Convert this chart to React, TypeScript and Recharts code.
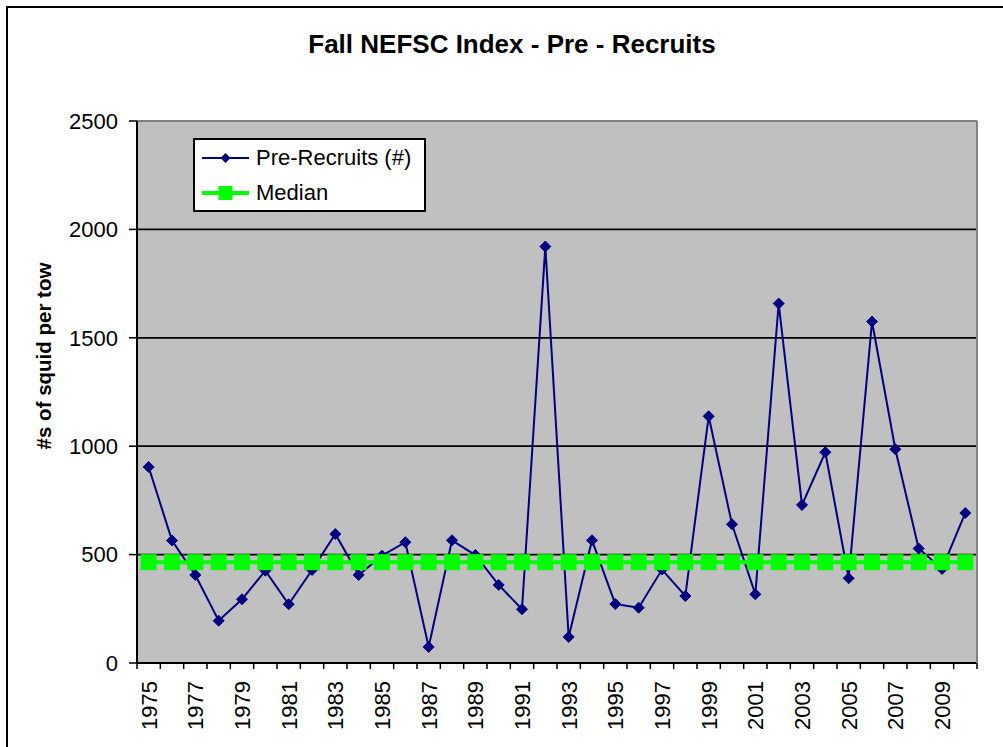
import React from 'react';
import {
  LineChart, Line, XAxis, YAxis, CartesianGrid, Legend, ReferenceLine,
} from 'recharts';

// values
const years = [
  '1975', '1976', '1977', '1978', '1979', '1980', '1981', '1982', '1983', '1984',
  '1985', '1986', '1987', '1988', '1989', '1990', '1991', '1992', '1993', '1994',
  '1995', '1996', '1997', '1998', '1999', '2000', '2001', '2002', '2003', '2004',
  '2005', '2006', '2007', '2008', '2009', '2010',
];
const preRecruits = [
  904, 565, 406, 195, 294, 426, 271, 429, 595, 406,
  495, 557, 74, 566, 498, 360, 248, 1921, 120, 566,
  272, 255, 431, 309, 1138, 640, 317, 1658, 729, 972,
  391, 1575, 986, 528, 434, 692,
];
const medianValue = 465;
const yTicks = [0, 500, 1000, 1500, 2000, 2500];

const data = years.map((year, i) => ({
  year,
  pre: preRecruits[i],
  median: medianValue,
}));

const FONT = '"Liberation Sans", Arial, sans-serif';
const CHART_W = 1003;
const CHART_H = 747;
const PLOT_LEFT = 137;
const PLOT_RIGHT_GAP = 26;
const PLOT_W = CHART_W - PLOT_LEFT - PLOT_RIGHT_GAP;
const HALF_BAND = PLOT_W / years.length / 2;

const Diamond = (props: any) => {
  const { cx, cy } = props;
  if (cx == null || cy == null) return null;
  const r = 5.5;
  return (
    <polygon
      points={`${cx},${cy - r} ${cx + r},${cy} ${cx},${cy + r} ${cx - r},${cy}`}
      fill="#000080"
      stroke="#000080"
    />
  );
};

const Square = (props: any) => {
  const { cx, cy } = props;
  if (cx == null || cy == null) return null;
  return <rect x={cx - 8} y={cy - 8} width={16} height={16} fill="#00FF00" />;
};

// Excel style: tick marks between categories, labels on every other year
const YearTick = (props: any) => {
  const { x, y, payload, index } = props;
  const i = payload?.index ?? index;
  return (
    <g>
      <line x1={x - HALF_BAND} y1={y} x2={x - HALF_BAND} y2={y + 6} stroke="#000" strokeWidth={1.5} />
      {i === years.length - 1 && (
        <line x1={x + HALF_BAND} y1={y} x2={x + HALF_BAND} y2={y + 6} stroke="#000" strokeWidth={1.5} />
      )}
      {i % 2 === 0 && (
        <text
          x={x}
          y={y + 18}
          transform={`rotate(-90, ${x}, ${y + 18})`}
          textAnchor="end"
          dy="0.36em"
          fontSize={22}
          fontFamily={FONT}
          fill="#000"
        >
          {payload.value}
        </text>
      )}
    </g>
  );
};

const LegendBox = () => (
  <div
    style={{
      width: 229,
      height: 70,
      border: '2px solid #000',
      background: '#fff',
      fontFamily: FONT,
      fontSize: 22,
      color: '#000',
      boxSizing: 'content-box',
    }}
  >
    <div style={{ display: 'flex', alignItems: 'center', height: 36 }}>
      <svg width={47} height={20} style={{ marginLeft: 7, marginRight: 7 }}>
        <line x1={0} y1={10} x2={47} y2={10} stroke="#000080" strokeWidth={2} />
        <polygon points="23.5,5 28.5,10 23.5,15 18.5,10" fill="#000080" />
      </svg>
      <span>Pre-Recruits (#)</span>
    </div>
    <div style={{ display: 'flex', alignItems: 'center', height: 34 }}>
      <svg width={47} height={20} style={{ marginLeft: 7, marginRight: 7 }}>
        <line x1={0} y1={10} x2={47} y2={10} stroke="#00FF00" strokeWidth={4} />
        <rect x={16.5} y={3} width={14} height={14} fill="#00FF00" />
      </svg>
      <span>Median</span>
    </div>
  </div>
);

export default function App() {
  return (
    <div
      style={{
        position: 'fixed',
        left: 0,
        top: 0,
        width: CHART_W,
        height: CHART_H,
        overflow: 'hidden',
        background: '#fff',
        fontFamily: FONT,
      }}
    >
      <div
        style={{
          position: 'absolute',
          left: 6,
          top: 6,
          width: 1100,
          height: 900,
          border: '2px solid #000',
        }}
      />
      <div
        style={{
          position: 'absolute',
          left: 0,
          top: 31,
          width: 1024,
          textAlign: 'center',
          fontSize: 26,
          lineHeight: '26px',
          fontWeight: 'bold',
          color: '#000',
        }}
      >
        Fall NEFSC Index - Pre - Recruits
      </div>
      <div style={{ position: 'absolute', left: 0, top: 0 }}>
        <LineChart
          width={CHART_W}
          height={CHART_H}
          data={data}
          margin={{ top: 121, right: 0, bottom: 0, left: 0 }}
        >
          <CartesianGrid
            vertical={false}
            fill="#C0C0C0"
            fillOpacity={1}
            stroke="#000"
            strokeWidth={1.8}
          />
          <XAxis
            dataKey="year"
            height={84}
            interval={0}
            padding={{ left: HALF_BAND, right: HALF_BAND }}
            tickLine={false}
            tickSize={0}
            tickMargin={0}
            axisLine={{ stroke: '#000', strokeWidth: 2 }}
            tick={<YearTick />}
          />
          <YAxis
            width={PLOT_LEFT}
            domain={[0, 2500]}
            ticks={yTicks}
            interval={0}
            tickSize={8}
            tickMargin={11}
            axisLine={{ stroke: '#000', strokeWidth: 2 }}
            tickLine={{ stroke: '#000', strokeWidth: 1.5 }}
            tick={{ fontSize: 22, fontFamily: FONT, fill: '#000' }}
            label={{
              content: () => (
                <text
                  x={44}
                  y={356}
                  transform="rotate(-90, 44, 356)"
                  textAnchor="middle"
                  dy="0.36em"
                  fontSize={20.5}
                  fontWeight="bold"
                  fontFamily={FONT}
                  fill="#000"
                >
                  #s of squid per tow
                </text>
              ),
            }}
          />
          <YAxis
            yAxisId="frame"
            orientation="right"
            width={PLOT_RIGHT_GAP}
            domain={[0, 2500]}
            tick={false}
            tickLine={false}
            axisLine={{ stroke: '#808080', strokeWidth: 2 }}
          />
          <ReferenceLine y={2500} stroke="#808080" strokeWidth={2} />
          <Legend
            layout="vertical"
            align="center"
            verticalAlign="middle"
            wrapperStyle={{ left: 193, top: 138, width: 'auto' }}
            content={() => <LegendBox />}
          />
          <Line
            dataKey="pre"
            name="Pre-Recruits (#)"
            stroke="#000080"
            strokeWidth={2}
            dot={<Diamond />}
            activeDot={false}
            isAnimationActive={false}
          />
          <Line
            dataKey="median"
            name="Median"
            stroke="#00FF00"
            strokeWidth={4}
            dot={<Square />}
            activeDot={false}
            isAnimationActive={false}
          />
        </LineChart>
      </div>
    </div>
  );
}
